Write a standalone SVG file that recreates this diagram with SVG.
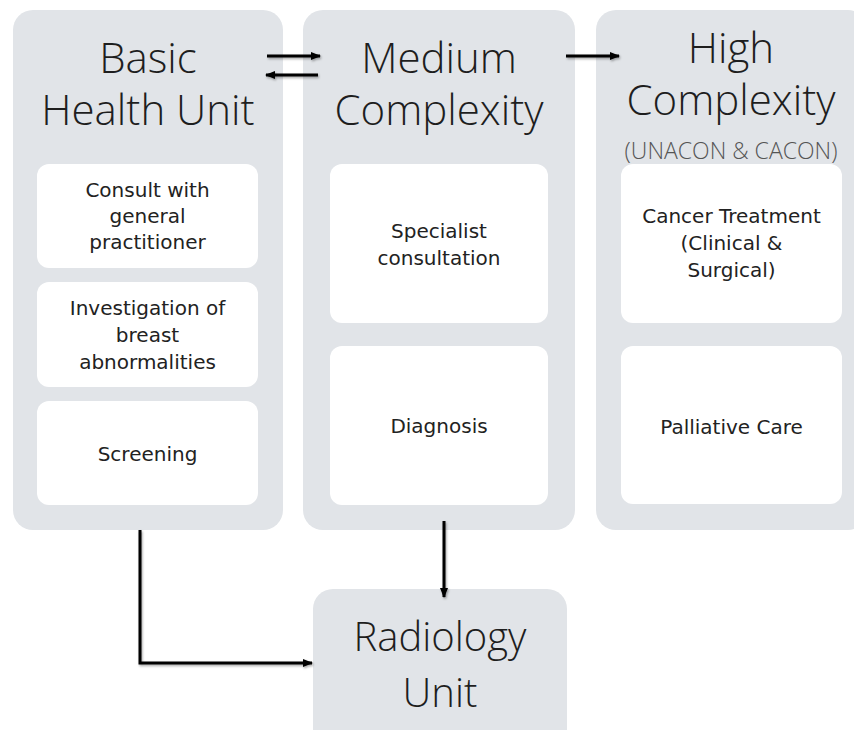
<svg xmlns="http://www.w3.org/2000/svg" width="854" height="730" viewBox="0 0 854 730">
  <style>
    .panel { fill: #e1e4e8; }
    .card { fill: #ffffff; }
    .title { font-family: "Open Sans", "Noto Sans", "DejaVu Sans", sans-serif; font-weight: 300; font-size: 42px; fill: #1e1e1e; text-anchor: middle; }
    .sub { font-family: "Open Sans", "Noto Sans", "DejaVu Sans", sans-serif; font-weight: 300; font-size: 23px; fill: #555555; text-anchor: middle; }
    .big { font-family: "Open Sans", "Noto Sans", "DejaVu Sans", sans-serif; font-weight: 300; font-size: 40px; fill: #1e1e1e; text-anchor: middle; }
    .label { font-family: "DejaVu Sans", "Liberation Sans", sans-serif; font-size: 20px; fill: #222222; text-anchor: middle; }
    .wire { fill: none; stroke: #000000; stroke-width: 3; }
  </style>
  <defs>
    <marker id="head" viewBox="0 0 10 10" markerUnits="userSpaceOnUse" markerWidth="10" markerHeight="10" refX="9" refY="5" orient="auto">
      <path d="M0,1 L10,5 L0,9 z" fill="#000000"/>
    </marker>
    <filter id="shade" filterUnits="userSpaceOnUse" x="0" y="0" width="854" height="730">
      <feDropShadow dx="1" dy="1.5" stdDeviation="1" flood-color="#000000" flood-opacity="0.35"/>
    </filter>
  </defs>

  <rect width="854" height="730" fill="#ffffff"/>

  <!-- Primary care level -->
  <g id="basic-health-unit">
    <rect class="panel" x="13" y="10" width="270" height="520" rx="20"/>
    <text class="title" x="148" y="73">Basic</text>
    <text class="title" x="148" y="125">Health Unit</text>
    <g id="basic-consult">
      <rect class="card" x="37" y="164" width="221" height="104" rx="12"/>
      <text class="label" x="147.5" y="197">Consult with</text>
      <text class="label" x="147.5" y="223">general</text>
      <text class="label" x="147.5" y="249">practitioner</text>
    </g>
    <g id="basic-investigation">
      <rect class="card" x="37" y="282" width="221" height="105" rx="12"/>
      <text class="label" x="147.5" y="315">Investigation of</text>
      <text class="label" x="147.5" y="342">breast</text>
      <text class="label" x="147.5" y="369">abnormalities</text>
    </g>
    <g id="basic-screening">
      <rect class="card" x="37" y="401" width="221" height="104" rx="12"/>
      <text class="label" x="147.5" y="461">Screening</text>
    </g>
  </g>

  <!-- Secondary care level -->
  <g id="medium-complexity">
    <rect class="panel" x="303" y="10" width="272" height="520" rx="20"/>
    <text class="title" x="439" y="73">Medium</text>
    <text class="title" x="439" y="125">Complexity</text>
    <g id="medium-specialist">
      <rect class="card" x="330" y="164" width="218" height="159" rx="12"/>
      <text class="label" x="439" y="238">Specialist</text>
      <text class="label" x="439" y="265">consultation</text>
    </g>
    <g id="medium-diagnosis">
      <rect class="card" x="330" y="346" width="218" height="159" rx="12"/>
      <text class="label" x="439" y="433">Diagnosis</text>
    </g>
  </g>

  <!-- Tertiary care level -->
  <g id="high-complexity">
    <rect class="panel" x="596" y="10" width="272" height="520" rx="20"/>
    <text class="title" x="731" y="63">High</text>
    <text class="title" x="731" y="115">Complexity</text>
    <text class="sub" x="731" y="159">(UNACON &amp; CACON)</text>
    <g id="high-treatment">
      <rect class="card" x="621" y="164" width="221" height="159" rx="12"/>
      <text class="label" x="731.5" y="223">Cancer Treatment</text>
      <text class="label" x="731.5" y="250">(Clinical &amp;</text>
      <text class="label" x="731.5" y="277">Surgical)</text>
    </g>
    <g id="high-palliative">
      <rect class="card" x="621" y="346" width="221" height="158" rx="12"/>
      <text class="label" x="731.5" y="434">Palliative Care</text>
    </g>
  </g>

  <!-- Imaging service -->
  <g id="radiology-unit">
    <rect class="panel" x="313" y="589" width="254" height="170" rx="20"/>
    <text class="big" x="440" y="651">Radiology</text>
    <text class="big" x="440" y="707">Unit</text>
  </g>

  <!-- Referral flows -->
  <g id="connectors" filter="url(#shade)">
    <line class="wire" x1="267" y1="56" x2="320" y2="56" marker-end="url(#head)"/>
    <line class="wire" x1="318" y1="75" x2="266" y2="75" marker-end="url(#head)"/>
    <line class="wire" x1="566" y1="56" x2="619" y2="56" marker-end="url(#head)"/>
    <line class="wire" x1="444" y1="521" x2="444" y2="597" marker-end="url(#head)"/>
    <path class="wire" d="M140,530 V663 H312" marker-end="url(#head)"/>
  </g>
</svg>
